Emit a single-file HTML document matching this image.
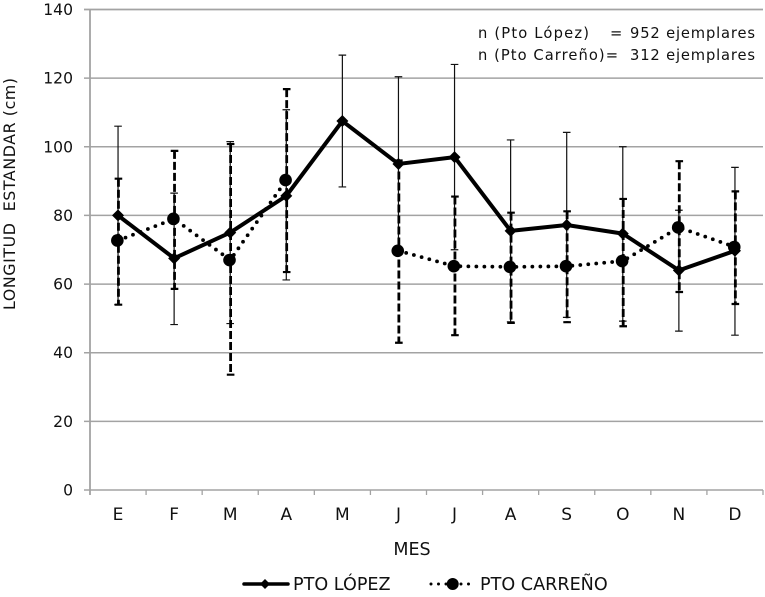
<!DOCTYPE html>
<html>
<head>
<meta charset="utf-8">
<style>
html,body{margin:0;padding:0;background:#fff;width:765px;height:597px;overflow:hidden}
svg{display:block}
text{font-family:"DejaVu Sans","Liberation Sans",sans-serif;fill:#111;white-space:pre}
</style>
</head>
<body>
<svg id="chart" width="765" height="597" viewBox="0 0 765 597" xmlns="http://www.w3.org/2000/svg">
  <text transform="translate(15,194) rotate(-90)" text-anchor="middle" font-size="15.8" textLength="232" lengthAdjust="spacing">LONGITUD  ESTANDAR (cm)</text>
  <text x="412" y="555" text-anchor="middle" font-size="17.5">MES</text>
  <g font-size="14.7">
    <text x="478" y="38" textLength="111" lengthAdjust="spacing">n (Pto López)</text>
    <text x="610" y="38">=</text>
    <text x="630" y="38" textLength="125" lengthAdjust="spacing">952 ejemplares</text>
  </g>
  <g font-size="14.7">
    <text x="478" y="60" textLength="140" lengthAdjust="spacing">n (Pto Carreño)=</text>
    <text x="630" y="60" textLength="125" lengthAdjust="spacing">312 ejemplares</text>
  </g>
  <g>
    <g>
      <line x1="244" y1="584" x2="288" y2="584" stroke="#000" stroke-width="3.5" stroke-linecap="round"/>
      <polygon points="265,579 270,584 265,589 260,584" fill="#000"/>
      <text x="293" y="590" font-size="17.6">PTO LÓPEZ</text>
    </g>
    <g>
      <line x1="431" y1="584" x2="476" y2="584" stroke="#000" stroke-width="3" stroke-linecap="round" stroke-dasharray="0 7.5"/>
      <circle cx="452.7" cy="584" r="6" fill="#000"/>
      <text x="480" y="590" font-size="17.6">PTO CARREÑO</text>
    </g>
  </g>
</svg>
<script>
const months = ['E','F','M','A','M','J','J','A','S','O','N','D'];
const yTicks = [0,20,40,60,80,100,120,140];
const lopezMean = [80,67.5,75,85.7,107.5,95,97,75.5,77.2,74.7,64,69.7];
const lopezUpper = [106,86.5,101.5,110.8,126.7,120.4,124,102,104.2,100,81.5,94];
const lopezLower = [54,48.2,48.5,61.2,88.3,69.6,70,49,50.3,49.2,46.3,45.1];
const carrenoMean = [72.7,79,67,90.3,null,69.7,65.2,65,65.2,66.7,76.5,70.8];
const carrenoUpper = [90.7,98.8,100.8,116.8,null,96,85.5,80.8,81.2,84.8,95.8,87];
const carrenoLower = [54,58.6,33.6,63.5,null,42.9,45.1,48.7,48.9,47.7,57.7,54.2];

const svg = document.getElementById('chart');
const NS = 'http://www.w3.org/2000/svg';
const plotLeft = 90, plotRight = 763, plotTop = 9.5, plotBottom = 490, yMax = 140;
const band = (plotRight - plotLeft) / months.length;
const xPos = i => plotLeft + band * (i + 0.5);
const yPos = v => plotBottom - (v / yMax) * (plotBottom - plotTop);

function make(tag, attrs, parent) {
  const el = document.createElementNS(NS, tag);
  for (const k in attrs) el.setAttribute(k, attrs[k]);
  (parent || svg).appendChild(el);
  return el;
}

yTicks.forEach(t => {
  const grid = make('line', {x1: 84, x2: plotRight, y1: yPos(t), y2: yPos(t), stroke: '#a3a3a3', 'stroke-width': t === 140 ? 1.8 : 1.5});
  
  
  const label = make('text', {x: 73, y: yPos(t) + 5.5, 'text-anchor': 'end', 'font-size': 15.6});
  label.textContent = t;
  
  
});

const yAxis = make('line', {x1: plotLeft, x2: plotLeft, y1: plotTop - 0.5, y2: plotBottom + 5, stroke: '#a3a3a3', 'stroke-width': 1.8});



months.forEach((m, i) => {
  const tick = make('line', {x1: plotLeft + band * (i + 1), x2: plotLeft + band * (i + 1), y1: plotBottom, y2: plotBottom + 5, stroke: '#a3a3a3', 'stroke-width': 1.3});
  
  
  const label = make('text', {x: xPos(i), y: 520, 'text-anchor': 'middle', 'font-size': 17});
  label.textContent = m;
  
  
});

function seriesPaths(values) {
  const segs = [];
  let cur = [];
  values.forEach((v, i) => {
    if (v === null) { if (cur.length) segs.push(cur); cur = []; }
    else cur.push(xPos(i) + ',' + yPos(v));
  });
  if (cur.length) segs.push(cur);
  return segs;
}

const lopezBars = make('g', {});


months.forEach((m, i) => {
  const x = xPos(i);
  const bar = make('path', {
    d: 'M' + x + ' ' + yPos(lopezUpper[i]) + 'V' + yPos(lopezLower[i]) +
       'M' + (x - 3.8) + ' ' + yPos(lopezUpper[i]) + 'H' + (x + 3.8) +
       'M' + (x - 3.8) + ' ' + yPos(lopezLower[i]) + 'H' + (x + 3.8),
    fill: 'none', stroke: '#111', 'stroke-width': 1.2
  }, lopezBars);
  
  
});

const carrenoBars = make('g', {});


months.forEach((m, i) => {
  if (carrenoMean[i] === null) return;
  const x = xPos(i) + 0.4;
  const bar = make('line', {x1: x, x2: x, y1: yPos(carrenoUpper[i]), y2: yPos(carrenoLower[i]), stroke: '#000', 'stroke-width': 2.8, 'stroke-dasharray': '8 3'}, carrenoBars);
  
  
  const caps = make('path', {
    d: 'M' + (x - 3.8) + ' ' + yPos(carrenoUpper[i]) + 'H' + (x + 3.8) +
       'M' + (x - 3.8) + ' ' + yPos(carrenoLower[i]) + 'H' + (x + 3.8),
    fill: 'none', stroke: '#000', 'stroke-width': 2.2
  }, carrenoBars);
  
  
});

seriesPaths(carrenoMean).forEach((seg, s) => {
  const line = make('polyline', {points: seg.join(' '), fill: 'none', stroke: '#000', 'stroke-width': 3.8, 'stroke-linecap': 'round', 'stroke-dasharray': '0 8'});
  
  
});
carrenoMean.forEach((v, i) => {
  if (v === null) return;
  const dot = make('circle', {cx: xPos(i) - 0.7, cy: yPos(v), r: 6.3, fill: '#000'});
  
  
});

seriesPaths(lopezMean).forEach((seg, s) => {
  const line = make('polyline', {points: seg.join(' '), fill: 'none', stroke: '#000', 'stroke-width': 4, 'stroke-linejoin': 'round'});
  
  
});
lopezMean.forEach((v, i) => {
  const x = xPos(i), y = yPos(v);
  const d = make('polygon', {points: [x, y - 6, x + 6, y, x, y + 6, x - 6, y].join(' '), fill: '#000'});
  
  
});
</script>
</body>
</html>
